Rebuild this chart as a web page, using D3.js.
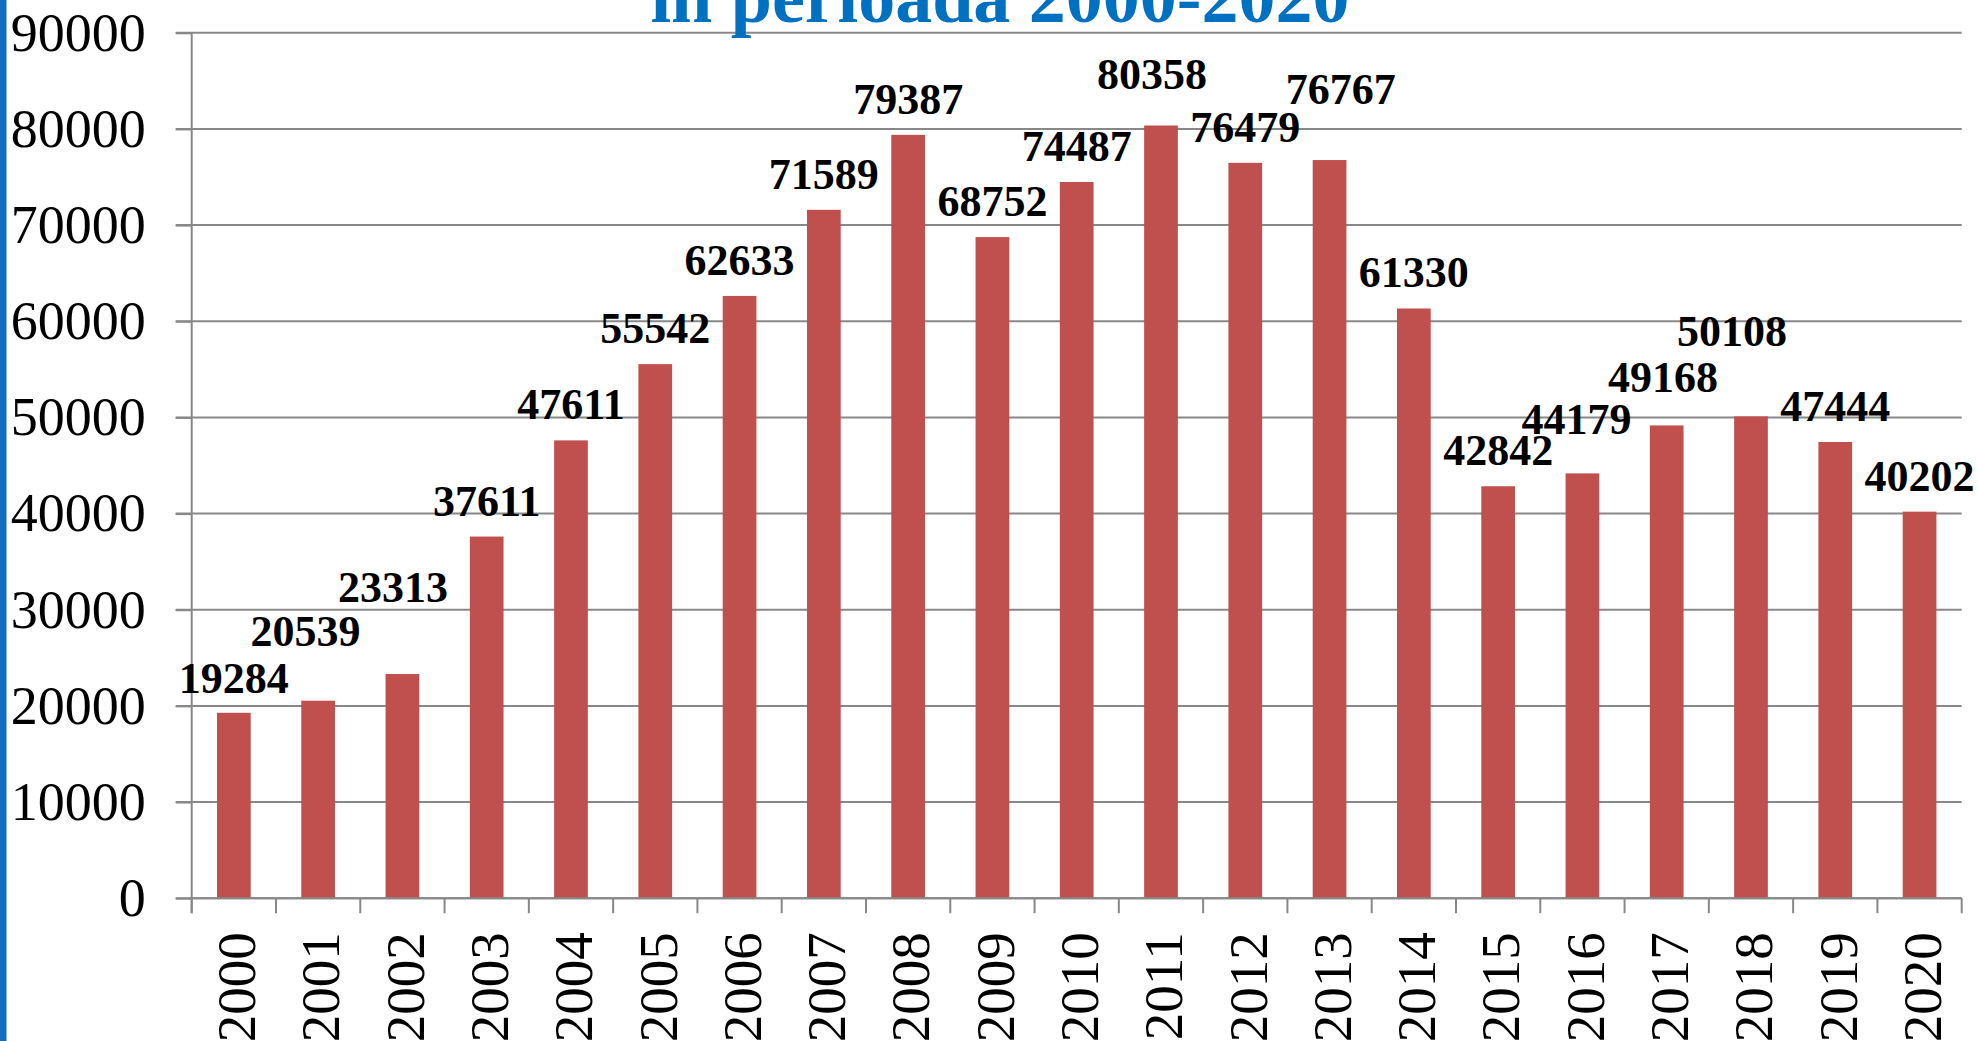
<!DOCTYPE html>
<html>
<head>
<meta charset="utf-8">
<script src="https://cdn.jsdelivr.net/npm/d3@7"></script>
<style>
  html, body { margin: 0; padding: 0; background: #ffffff; overflow: hidden; }
  svg { display: block; }
</style>
</head>
<body>
<svg id="chart" width="1978" height="1041"></svg>
<script>
// ---- data ----
const years = ["2000","2001","2002","2003","2004","2005","2006","2007","2008","2009","2010",
               "2011","2012","2013","2014","2015","2016","2017","2018","2019","2020"];
const values = [19284, 20539, 23313, 37611, 47611, 55542, 62633, 71589, 79387, 68752, 74487,
                80358, 76479, 76767, 61330, 42842, 44179, 49168, 50108, 47444, 40202];
const yTickValues = [0, 10000, 20000, 30000, 40000, 50000, 60000, 70000, 80000, 90000];
const titleText = "în perioada 2000-2020";
// manual label nudges (px) as placed in the original chart
const labelDx = [0, -12.6, -9.4, 0, 0, 0, 0, 0, 0, 0, 0, -9, 0, 11.3, 0, 0, -6, -3.6, -19, 0, 0];
const labelDy = [1.5, -34, -51, 0, 0, 0, 0, 0, 0, 0, 0, -16, 0, -35, 0, 0, -18.5, -12.5, -49.5, 0, 0];

// ---- layout ----
const plotLeft = 191.7, plotRight = 1961.7, plotTop = 32.8, plotBottom = 898.2;
const serif = "'Liberation Serif', 'Times New Roman', serif";
const gridColor = "#888888";

const svg = d3.select("#chart");
svg.append("rect").attr("width", 1978).attr("height", 1041).attr("fill", "#ffffff");

// blue left border
svg.append("rect").attr("x", 0).attr("y", 0).attr("width", 6.5).attr("height", 1041).attr("fill", "#0E6FC1");

const x = d3.scaleBand().domain(years).range([plotLeft, plotRight]).paddingInner(0.6).paddingOuter(0.3);
const y = d3.scaleLinear().domain([0, 90000]).range([plotBottom, plotTop]);

// gridlines
svg.append("g").selectAll("line").data(yTickValues).join("line")
  .attr("x1", plotLeft - 16).attr("x2", plotRight)
  .attr("y1", d => y(d)).attr("y2", d => y(d))
  .attr("stroke", gridColor).attr("stroke-width", 2);

// bars
svg.append("g").selectAll("rect").data(values).join("rect")
  .attr("x", (d, i) => x(years[i]))
  .attr("width", x.bandwidth())
  .attr("y", d => y(d))
  .attr("height", d => y(0) - y(d))
  .attr("fill", "#C0504D");

// y axis (labels)
const yAxis = svg.append("g").attr("transform", `translate(${plotLeft},0)`)
  .call(d3.axisLeft(y).tickValues(yTickValues).tickFormat(d3.format("d")).tickSize(16).tickPadding(30));
yAxis.select(".domain").remove();
yAxis.selectAll(".tick line").attr("stroke", gridColor).attr("stroke-width", 2);
yAxis.selectAll(".tick text").attr("font-family", serif).attr("font-size", 54).attr("fill", "#000");

// y axis line (extends down to the tick length)
svg.append("line").attr("x1", plotLeft).attr("x2", plotLeft).attr("y1", plotTop).attr("y2", plotBottom + 15)
  .attr("stroke", gridColor).attr("stroke-width", 2);

// x axis line + boundary ticks
const gap = (x.step() - x.bandwidth()) / 2;
const boundaries = years.map(d => x(d) - gap).concat([x(years[years.length - 1]) + x.bandwidth() + gap]);
svg.append("line").attr("x1", plotLeft).attr("x2", plotRight).attr("y1", plotBottom).attr("y2", plotBottom)
  .attr("stroke", gridColor).attr("stroke-width", 2);
svg.append("g").selectAll("line").data(boundaries).join("line")
  .attr("x1", d => d).attr("x2", d => d).attr("y1", plotBottom).attr("y2", plotBottom + 15)
  .attr("stroke", gridColor).attr("stroke-width", 2);

// x axis labels (rotated)
const xAxis = svg.append("g").attr("transform", `translate(0,${plotBottom})`)
  .call(d3.axisBottom(x).tickSize(0).tickPadding(0));
xAxis.select(".domain").remove();
xAxis.selectAll(".tick text")
  .attr("font-family", serif).attr("font-size", 55).attr("fill", "#000")
  .attr("text-anchor", "end")
  .attr("transform", "translate(2,34) rotate(-90)")
  .attr("x", 0).attr("y", 0).attr("dy", "0.35em");

// value labels
svg.append("g").selectAll("text").data(values).join("text")
  .attr("x", (d, i) => x(years[i]) + x.bandwidth() / 2 + labelDx[i])
  .attr("y", (d, i) => y(d) - 21 + labelDy[i])
  .attr("text-anchor", "middle")
  .attr("font-family", serif).attr("font-weight", "bold").attr("font-size", 44)
  .attr("fill", "#000")
  .text(d => d);

// title (partly cut at the top, as in the original)
svg.append("text").attr("x", 1000).attr("y", 22)
  .attr("text-anchor", "middle")
  .attr("font-family", serif).attr("font-weight", "bold").attr("font-size", 74)
  .attr("fill", "#0070C0")
  .text(titleText);
</script>
</body>
</html>
